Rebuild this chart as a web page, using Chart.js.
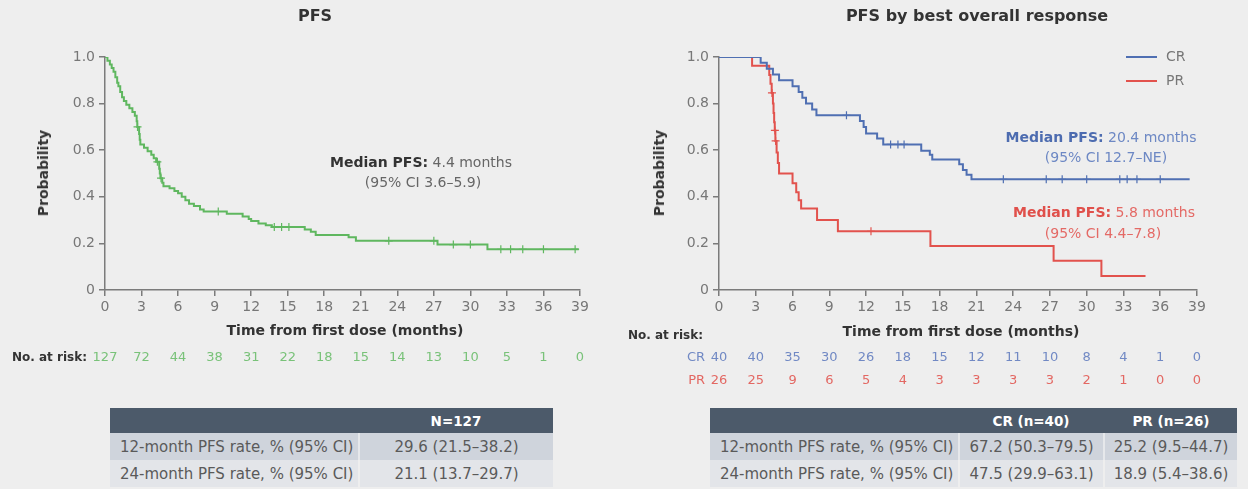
<!DOCTYPE html>
<html>
<head>
<meta charset="utf-8">
<script src="https://cdn.jsdelivr.net/npm/chart.js@4.4.1/dist/chart.umd.min.js"></script>
<style>
  html, body { margin: 0; padding: 0; background: #eeeeee; width: 1248px; height: 489px; overflow: hidden;
    font-family: 'DejaVu Sans', sans-serif; }
  .abs { position: absolute; white-space: nowrap; }
  .ctr { transform: translate(-50%, -50%); }
  .title { font-weight: bold; font-size: 16px; color: #333; }
  .axt { font-weight: bold; font-size: 14px; color: #333; }
  .rot { transform: translate(-50%, -50%) rotate(-90deg); }
  .note { font-size: 14px; color: #666; }
  .leg { font-size: 14px; color: #777; }
  .legline { position: absolute; height: 2px; }
  .cell { position: absolute; box-sizing: border-box; font-size: 15px; color: #5a5a5a; display: flex; align-items: center; white-space: nowrap; }
  .hdr { background: #4c5a6a; color: #fff; font-weight: bold; font-size: 13.5px; justify-content: center; }
  .r1 { background: #cfd4dc; }
  .r2 { background: #e3e5e9; }
  .lab { padding-left: 10px; }
  .val { justify-content: center; }
</style>
</head>
<body>
<canvas id="pfsAll" class="abs" width="620" height="395" style="left:0;top:0;"></canvas>
<canvas id="pfsResp" class="abs" width="628" height="395" style="left:620px;top:0;"></canvas>

<!-- titles -->
<div class="abs ctr title" style="left:315px;top:15px;">PFS</div>
<div class="abs ctr title" style="left:977px;top:15px;">PFS by best overall response</div>

<!-- axis titles -->
<div class="abs axt rot" style="left:43px;top:173px;">Probability</div>
<div class="abs axt rot" style="left:659px;top:173px;">Probability</div>
<div class="abs ctr axt" style="left:345px;top:330px;">Time from first dose (months)</div>
<div class="abs ctr axt" style="left:961px;top:331px;">Time from first dose (months)</div>

<!-- median annotations -->
<div class="abs ctr note" style="left:421px;top:162px;"><b style="color:#333">Median PFS:</b> 4.4 months</div>
<div class="abs ctr note" style="left:423px;top:182px;">(95% CI 3.6–5.9)</div>
<div class="abs ctr note" style="left:1101px;top:137px;color:#6d88c4;"><b style="color:#4d6cb0">Median PFS:</b> 20.4 months</div>
<div class="abs ctr note" style="left:1106px;top:157px;color:#6d88c4;">(95% CI 12.7–NE)</div>
<div class="abs ctr note" style="left:1104px;top:212px;color:#e46a66;"><b style="color:#e0504b">Median PFS:</b> 5.8 months</div>
<div class="abs ctr note" style="left:1103px;top:233px;color:#e46a66;">(95% CI 4.4–7.8)</div>

<!-- legend -->
<div class="legline" style="left:1126px;top:56px;width:31px;background:#4f6fb2;"></div>
<div class="abs leg" style="left:1166px;top:48px;">CR</div>
<div class="legline" style="left:1126px;top:80px;width:31px;background:#e2524d;"></div>
<div class="abs leg" style="left:1166px;top:72px;">PR</div>

<!-- rate tables -->
<div class="cell hdr" style="left:110px;top:408px;width:443px;height:25px;"><span style="position:absolute;left:346px;transform:translateX(-50%);">N=127</span></div>
<div class="cell r1 lab" style="left:110px;top:433px;width:250px;height:27px;border-right:2px solid #e6e8eb;">12-month PFS rate, % (95% CI)</div>
<div class="cell r1 val" style="left:360px;top:433px;width:193px;height:27px;">29.6 (21.5–38.2)</div>
<div class="cell r2 lab" style="left:110px;top:460px;width:250px;height:27px;border-right:2px solid #eeeeee;">24-month PFS rate, % (95% CI)</div>
<div class="cell r2 val" style="left:360px;top:460px;width:193px;height:27px;">21.1 (13.7–29.7)</div>

<div class="cell hdr" style="left:710px;top:408px;width:527px;height:25px;">
  <span style="position:absolute;left:321px;transform:translateX(-50%);">CR (n=40)</span>
  <span style="position:absolute;left:461px;transform:translateX(-50%);">PR (n=26)</span>
</div>
<div class="cell r1 lab" style="left:710px;top:433px;width:250px;height:27px;border-right:2px solid #e6e8eb;">12-month PFS rate, % (95% CI)</div>
<div class="cell r1 val" style="left:960px;top:433px;width:145px;height:27px;border-right:2px solid #e6e8eb;">67.2 (50.3–79.5)</div>
<div class="cell r1 val" style="left:1105px;top:433px;width:132px;height:27px;">25.2 (9.5–44.7)</div>
<div class="cell r2 lab" style="left:710px;top:460px;width:250px;height:27px;border-right:2px solid #eeeeee;">24-month PFS rate, % (95% CI)</div>
<div class="cell r2 val" style="left:960px;top:460px;width:145px;height:27px;border-right:2px solid #eeeeee;">47.5 (29.9–63.1)</div>
<div class="cell r2 val" style="left:1105px;top:460px;width:132px;height:27px;">18.9 (5.4–38.6)</div>

<script>
// Axis ticks (months from first dose) and probability ticks
const tickMonths = [0, 3, 6, 9, 12, 15, 18, 21, 24, 27, 30, 33, 36, 39];
const probTicks = [0, 0.2, 0.4, 0.6, 0.8, 1.0];
const probLabels = ['0', '0.2', '0.4', '0.6', '0.8', '1.0'];

// Kaplan-Meier estimate, all patients (time in months, survival probability)
const pfsTime = [0, 0.2, 0.4, 0.55, 0.7, 0.85, 1.0, 1.1, 1.25, 1.4, 1.55, 1.75, 2.0, 2.25, 2.45, 2.6, 2.65, 2.8,
  2.85, 2.9, 3.2, 3.5, 3.8, 4.0, 4.2, 4.45, 4.5, 4.55, 4.7, 4.8, 5.3, 5.7, 6.0, 6.3, 6.6, 6.9,
  7.3, 7.8, 8.1, 10.0, 11.3, 11.8, 12.0, 12.6, 13.2, 13.7, 16.4, 16.9, 17.3, 20.0, 20.6, 27.3, 31.4, 38.9];
const pfsSurv = [1.0, 0.984, 0.968, 0.953, 0.937, 0.913, 0.89, 0.874, 0.85, 0.827, 0.811, 0.795, 0.78, 0.764, 0.748, 0.724, 0.70, 0.67,
  0.645, 0.625, 0.61, 0.595, 0.58, 0.565, 0.55, 0.52, 0.50, 0.48, 0.46, 0.445, 0.437, 0.425, 0.415, 0.40, 0.385, 0.37,
  0.36, 0.345, 0.337, 0.327, 0.315, 0.305, 0.296, 0.285, 0.278, 0.27, 0.26, 0.25, 0.236, 0.226, 0.211, 0.195, 0.175, 0.175];
const pfsCensor = [2.67, 4.3, 4.6, 9.3, 13.9, 14.5, 15.1, 23.3, 27.0, 28.6, 30.0, 32.5, 33.3, 34.3, 36.0, 38.6];

// Complete responders
const crTime = [0, 3.4, 3.9, 4.4, 4.9, 6.0, 6.5, 6.8, 7.1, 7.6, 7.95, 11.5, 11.8, 12.0, 12.9, 13.4,
  16.5, 17.2, 17.4, 19.6, 19.9, 20.2, 20.6, 38.4];
const crSurv = [1.0, 0.975, 0.95, 0.925, 0.90, 0.875, 0.85, 0.825, 0.80, 0.775, 0.75, 0.725, 0.70, 0.672, 0.65, 0.625,
  0.598, 0.58, 0.56, 0.54, 0.515, 0.495, 0.475, 0.475];
const crCensor = [10.4, 14.0, 14.6, 15.1, 23.2, 26.7, 28.0, 30.0, 32.7, 33.3, 34.1, 36.0];

// Partial responders
const prTime = [0, 2.7, 4.1, 4.2, 4.3, 4.4, 4.45, 4.5, 4.55, 4.6, 4.7, 4.8, 4.9, 6.0, 6.3, 6.5, 6.7, 8.0,
  9.7, 17.25, 27.3, 31.2, 34.8];
const prSurv = [1.0, 0.962, 0.923, 0.885, 0.846, 0.80, 0.76, 0.72, 0.685, 0.64, 0.59, 0.545, 0.50, 0.458, 0.42, 0.385, 0.35, 0.30,
  0.252, 0.189, 0.126, 0.06, 0.06];
const prCensor = [4.32, 4.56, 4.62, 12.4];

// Numbers at risk at each tick month
const riskAll = [127, 72, 44, 38, 31, 22, 18, 15, 14, 13, 10, 5, 1, 0];
const riskCR = [40, 40, 35, 30, 26, 18, 15, 12, 11, 10, 8, 4, 1, 0];
const riskPR = [26, 25, 9, 6, 5, 4, 3, 3, 3, 3, 2, 1, 0, 0];

const FONT = 'DejaVu Sans';
const AXIS = '#7b7b7b';
const GREEN = '#5fb75f', BLUE = '#4f6fb2', RED = '#e2524d';

function survivalAt(times, surv, t) {
  let v = surv[0];
  for (let i = 0; i < times.length; i++) if (times[i] <= t) v = surv[i];
  return v;
}
const curve = (times, surv) => times.map((t, i) => ({ x: t, y: surv[i] }));
const censored = (marks, times, surv) => marks.map(t => ({ x: t, y: survivalAt(times, surv, t) }));

function kmDatasets(times, surv, marks, color) {
  return [
    { data: curve(times, surv), borderColor: color, borderWidth: 2, stepped: true, pointRadius: 0, fill: false },
    { data: censored(marks, times, surv), showLine: false, pointStyle: 'cross', pointRadius: 4,
      borderColor: color, borderWidth: 1.2, pointHoverRadius: 4 }
  ];
}

// Draws the "No. at risk" rows under the x axis, aligned to the month ticks
const riskRows = {
  id: 'riskRows',
  afterDraw(chart, args, opts) {
    const ctx = chart.ctx, xs = chart.scales.x;
    ctx.save();
    ctx.textBaseline = 'middle';
    (opts.labels || []).forEach(l => {
      ctx.font = (l.bold ? 'bold ' : '') + l.size + 'px "' + FONT + '"';
      ctx.fillStyle = l.color;
      ctx.textAlign = l.align;
      ctx.fillText(l.text, l.x, l.y);
    });
    ctx.font = '13px "' + FONT + '"';
    ctx.textAlign = 'center';
    (opts.rows || []).forEach(r => {
      ctx.fillStyle = r.color;
      r.values.forEach((v, i) => ctx.fillText(String(v), xs.getPixelForValue(tickMonths[i]), r.y));
    });
    ctx.restore();
  }
};

function makeOptions(yWidth, padRight, risk) {
  return {
    responsive: false,
    animation: false,
    devicePixelRatio: 1,
    layout: { padding: { top: 57, right: padRight, left: 0, bottom: 0 } },
    plugins: { legend: { display: false }, tooltip: { enabled: false }, riskRows: risk },
    scales: {
      x: {
        type: 'linear', min: 0, max: 39,
        afterBuildTicks: s => { s.ticks = tickMonths.map(v => ({ value: v })); },
        afterFit: s => { s.height = 105; },
        ticks: { color: '#777', font: { family: FONT, size: 14 }, padding: 3, maxRotation: 0, autoSkip: false },
        grid: { display: true, drawOnChartArea: false, drawTicks: true, tickLength: 6, color: AXIS, lineWidth: 1.5 },
        border: { display: true, color: AXIS, width: 1.5 }
      },
      y: {
        type: 'linear', min: 0, max: 1,
        afterBuildTicks: s => { s.ticks = probTicks.map(v => ({ value: v })); },
        afterFit: s => { s.width = yWidth; },
        ticks: { color: '#777', font: { family: FONT, size: 14 }, padding: 4,
          callback: (v) => probLabels[probTicks.findIndex(p => Math.abs(p - v) < 1e-6)] },
        grid: { display: true, drawOnChartArea: false, drawTicks: true, tickLength: 6, color: AXIS, lineWidth: 1.5 },
        border: { display: true, color: AXIS, width: 1.5 }
      }
    }
  };
}

new Chart(document.getElementById('pfsAll'), {
  type: 'line',
  data: { datasets: kmDatasets(pfsTime, pfsSurv, pfsCensor, GREEN) },
  options: makeOptions(105, 40, {
    labels: [{ text: 'No. at risk:', x: 12, y: 358, align: 'left', bold: true, size: 12, color: '#333' }],
    rows: [{ values: riskAll, y: 358, color: '#79c279' }]
  }),
  plugins: [riskRows]
});

new Chart(document.getElementById('pfsResp'), {
  type: 'line',
  data: { datasets: [...kmDatasets(crTime, crSurv, crCensor, BLUE), ...kmDatasets(prTime, prSurv, prCensor, RED)] },
  options: makeOptions(99, 51, {
    labels: [
      { text: 'No. at risk:', x: 8, y: 336, align: 'left', bold: true, size: 12, color: '#333' },
      { text: 'CR', x: 85, y: 358, align: 'right', bold: false, size: 13, color: '#7189c4' },
      { text: 'PR', x: 85, y: 381, align: 'right', bold: false, size: 13, color: '#e36863' }
    ],
    rows: [
      { values: riskCR, y: 358, color: '#7189c4' },
      { values: riskPR, y: 381, color: '#e36863' }
    ]
  }),
  plugins: [riskRows]
});
</script>
</body>
</html>
